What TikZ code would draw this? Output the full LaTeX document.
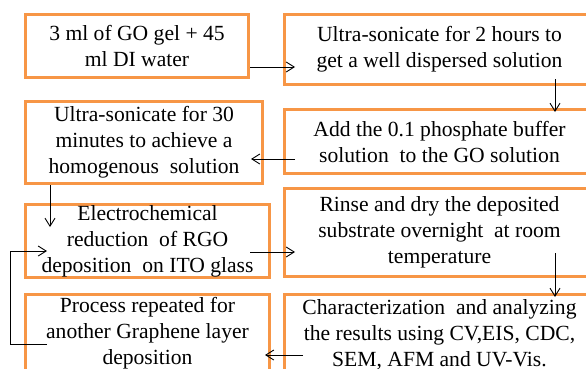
\documentclass[tikz,border=0pt]{standalone}
\usepackage{fontspec}
\setmainfont{Liberation Serif}
\newfontfamily\boxfont{Liberation Serif}
\usetikzlibrary{arrows.meta,calc}
\definecolor{boxorange}{HTML}{F79646}
\begin{document}
\begin{tikzpicture}[x=1pt,y=-1pt,
  box/.style={draw=boxorange, line width=3pt, inner sep=0pt, align=center,
    font=\boxfont\fontsize{21.6}{26}\selectfont, anchor=north west},
  arr/.style={-{Straight Barb[length=8pt,width=10pt]}, line width=0.9pt, draw=black}]
\useasboundingbox (0,0) rectangle (586,369);
\clip (0,0) rectangle (586,369);
\node[box, minimum width=223pt, minimum height=63pt] (b1) at (24,13)
  {3 ml of GO gel + 45\\ml DI water};
\node[box, minimum width=310pt, minimum height=70pt] (b2) at (283,13)
  {Ultra-sonicate for 2 hours to\\get a well dispersed solution};
\node[box, minimum width=237pt, minimum height=82pt] (b3) at (24,100)
  {Ultra-sonicate for 30\\minutes to achieve a\\homogenous\ \ solution};
\node[box, minimum width=310pt, minimum height=64pt] (b4) at (283,108)
  {Add the 0.1 phosphate buffer\\solution\ \ to the GO solution};
\node[box, minimum width=244pt, minimum height=73pt] (b5) at (24,203)
  {Electrochemical\\reduction\ \ of RGO\\deposition\ \ on ITO glass};
\node[box, minimum width=310pt, minimum height=88pt] (b6) at (283,187)
  {Rinse and dry the deposited\\substrate overnight\ \ at room\\temperature};
\node[box, minimum width=244pt, minimum height=78pt] (b7) at (24,293)
  {Process repeated for\\another Graphene layer\\deposition};
\node[box, minimum width=310pt, minimum height=80pt] (b8) at (283,293)
  {Characterization\ \ and analyzing\\the results using CV,EIS, CDC,\\SEM, AFM and UV-Vis.};
\draw[arr] (b1.east|-0,67) -- ($(b2.west|-0,67)+(12,0)$);
\draw[arr] ($(b2.south-|555,0)+(0,-7)$) -- ($(b4.north-|555,0)+(0,4)$);
\draw[arr] ($(b4.west|-0,159)+(12,0)$) -- ($(b3.east|-0,159)+(-13,0)$);
\draw[arr] (b3.south-|50,0) -- ($(b5.north-|50,0)+(0,24)$);
\draw[arr] ($(b5.east|-0,252)+(-21,0)$) -- ($(b6.west|-0,252)+(12,0)$);
\draw[arr] ($(b6.south-|555,0)+(0,-25)$) -- ($(b8.north-|555,0)+(0,4)$);
\draw[arr] ($(b8.west|-0,355)+(20,0)$) -- ($(b7.east|-0,355)+(-6,0)$);
\coordinate (loopc) at (10,251);
\draw[arr] ($(b7.west|-0,344)+(23,0)$) -| (loopc) -- ($(b5.west|-0,251)+(23,0)$);
\end{tikzpicture}
\end{document}
